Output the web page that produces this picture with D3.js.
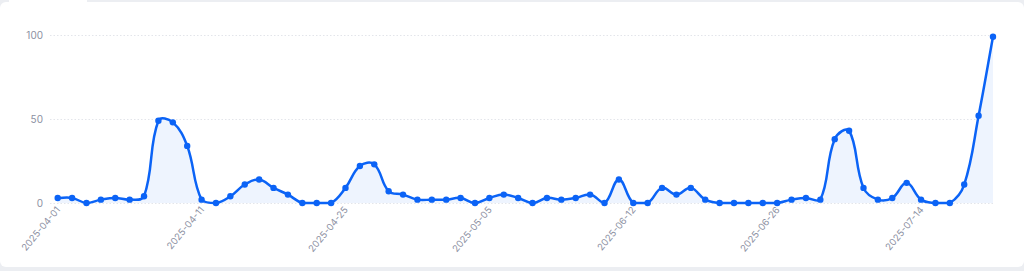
<!DOCTYPE html>
<html>
<head>
<meta charset="utf-8">
<script src="https://cdn.jsdelivr.net/npm/d3@7"></script>
<style>
  html, body { margin: 0; padding: 0; background: #eceef2; }
  #card { position: absolute; left: 0; top: 2px; width: 1024px; height: 265px; background: #fff; border-radius: 6px; }
  #gap { position: absolute; left: 9px; top: 0; width: 78px; height: 3px; background: #fff; }
  svg { position: absolute; left: 0; top: 0; }
  .tick text { font-family: Inter, "Noto Sans", sans-serif; fill: #8c90a2; }
</style>
</head>
<body>
<div id="card"></div>
<div id="gap"></div>
<div id="chart"></div>
<script>
const dates = [
  "2025-04-01","2025-04-02","2025-04-03","2025-04-04","2025-04-05","2025-04-06","2025-04-07","2025-04-08","2025-04-09","2025-04-10",
  "2025-04-11","2025-04-12","2025-04-13","2025-04-14","2025-04-15","2025-04-16","2025-04-17","2025-04-18","2025-04-22","2025-04-23",
  "2025-04-25","2025-04-26","2025-04-27","2025-04-28","2025-04-29","2025-04-30","2025-05-01","2025-05-02","2025-05-03","2025-05-04",
  "2025-05-05","2025-05-06","2025-05-07","2025-05-12","2025-05-19","2025-05-26","2025-05-29","2025-06-02","2025-06-05","2025-06-09",
  "2025-06-12","2025-06-13","2025-06-16","2025-06-17","2025-06-18","2025-06-19","2025-06-20","2025-06-23","2025-06-24","2025-06-25",
  "2025-06-26","2025-06-27","2025-06-30","2025-07-01","2025-07-02","2025-07-03","2025-07-07","2025-07-08","2025-07-09","2025-07-11",
  "2025-07-14","2025-07-15","2025-07-16","2025-07-17","2025-07-18","2025-07-21"
]
const values = [
  3, 3, 0, 2, 3, 2, 4, 49, 48, 34,
  2, 0, 4, 11, 14, 9, 5, 0, 0, 0,
  9, 22, 23, 7, 5, 2, 2, 2, 3, 0,
  3, 5, 3, 0, 3, 2, 3, 5, 0, 14,
  0, 0, 9, 5, 9, 2, 0, 0, 0, 0,
  0, 2, 3, 2, 38, 43, 9, 2, 3, 12,
  2, 0, 0, 11, 52, 99
]
const x_tick_labels = ["2025-04-01","2025-04-11","2025-04-25","2025-05-05","2025-06-12","2025-06-26","2025-07-14"]
const y_ticks = [0, 50, 100]

const width = 1024, height = 271
const line_color = "#0b63f6"

let data = dates.map((d, i) => ({date: d, value: values[i]}))

let svg = d3.select("#chart")
    .append("svg")
    .attr("width", width)
    .attr("height", height)

const x = d3.scalePoint()
    .domain(dates)
    .range([57.7, 993])
const y = d3.scaleLinear()
    .domain([0, 100])
    .range([203, 35])

// spline with tension, control points kept inside the plot area
function spline_path(pts, tension, close_y) {
    const top = y(100), bottom = y(0)
    const clamp = v => Math.max(top, Math.min(bottom, v))
    const cps = pts.map((cur, i) => {
        const prev = pts[i - 1] || cur, next = pts[i + 1] || cur
        const d01 = Math.hypot(cur[0] - prev[0], cur[1] - prev[1])
        const d12 = Math.hypot(next[0] - cur[0], next[1] - cur[1])
        let s01 = d01 / (d01 + d12), s12 = d12 / (d01 + d12)
        if (isNaN(s01)) s01 = 0
        if (isNaN(s12)) s12 = 0
        const fa = tension * s01, fb = tension * s12
        return {
            prev: [cur[0] - fa * (next[0] - prev[0]), clamp(cur[1] - fa * (next[1] - prev[1]))],
            next: [cur[0] + fb * (next[0] - prev[0]), clamp(cur[1] + fb * (next[1] - prev[1]))]
        }
    })
    const p = d3.path()
    p.moveTo(pts[0][0], pts[0][1])
    for (let i = 1; i < pts.length; i++) {
        p.bezierCurveTo(cps[i - 1].next[0], cps[i - 1].next[1], cps[i].prev[0], cps[i].prev[1], pts[i][0], pts[i][1])
    }
    if (close_y !== undefined) {
        p.lineTo(pts[pts.length - 1][0], close_y)
        p.lineTo(pts[0][0], close_y)
        p.closePath()
    }
    return p.toString()
}

const pts = data.map(d => [x(d.date), y(d.value)])

// grid + y labels
let y_axis = svg.append("g")
    .attr("transform", "translate(50,0)")
    .call(d3.axisLeft(y)
        .tickValues(y_ticks)
        .tickSizeInner(-943)
        .tickSizeOuter(0)
        .tickPadding(7)
    )
y_axis.select(".domain").remove()
y_axis.selectAll(".tick line")
    .attr("stroke", "#e3e5ea")
    .attr("stroke-dasharray", "1.5,2")
y_axis.selectAll(".tick text")
    .style("font-size", "10px")

// x labels
let x_axis = svg.append("g")
    .attr("transform", "translate(0,208)")
    .call(d3.axisBottom(x)
        .tickValues(x_tick_labels)
        .tickSize(0)
        .tickPadding(0)
    )
x_axis.select(".domain").remove()
x_axis.selectAll(".tick text")
    .style("font-size", "9.5px")
    .attr("text-anchor", "end")
    .attr("dy", "0.35em")
    .attr("y", 0)
    .attr("transform", "rotate(-50)")

// area
svg.append("path")
    .attr("fill", "#eef4fe")
    .attr("d", spline_path(pts, 0.4, y(0)))

svg.append("path")
    .attr("fill", "none")
    .attr("stroke", line_color)
    .attr("stroke-width", 2.5)
    .attr("d", spline_path(pts, 0.4))

svg.selectAll(".dots")
    .data(data)
    .enter()
    .append("circle")
    .attr("fill", line_color)
    .attr("cx", d => x(d.date))
    .attr("cy", d => y(d.value))
    .attr("r", 3.2)
</script>
</body>
</html>
